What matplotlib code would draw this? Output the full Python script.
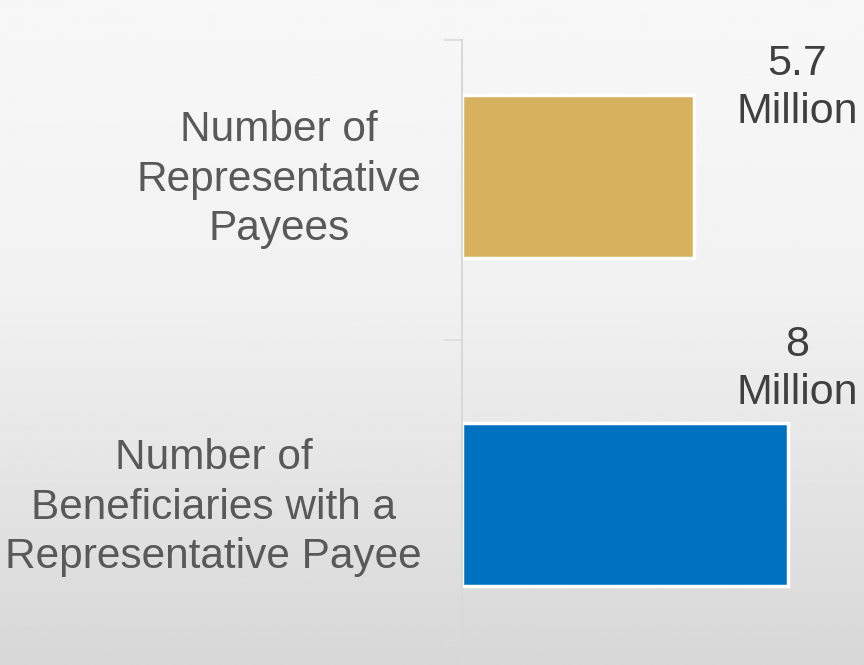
import matplotlib
matplotlib.use('Agg')
import matplotlib.pyplot as plt
import numpy as np

categories = ['Number of\nRepresentative\nPayees',
              'Number of\nBeneficiaries with a\nRepresentative Payee']
values = [5.7, 8.0]
value_labels = ['5.7\nMillion', '8\nMillion']
bar_colors = ['#D7B15E', '#0070C0']

W, H = 864, 665
fig = plt.figure(figsize=(W / 100, H / 100), dpi=100)

# background gradient (light grey to darker grey at bottom)
bg = fig.add_axes([0, 0, 1, 1], zorder=0)
yy = np.linspace(0, 1, 256)
shade = np.interp(yy, [0, 0.45, 1.0], [0.972, 0.945, 0.845])
img = np.repeat(shade[:, None], 2, axis=1)
bg.imshow(img, cmap='gray', vmin=0, vmax=1, aspect='auto', extent=[0, 1, 1, 0])
bg.axis('off')

# main axes: left spine at x=462, categories span y=40..640
left = 462 / W
top = 1 - 40 / H
ax = fig.add_axes([left, 0.0, 1 - left, top], zorder=1)
ax.patch.set_alpha(0)

px_per_unit = 300.0
ax.set_ylim((H - 40) / px_per_unit, 0)
ax.set_xlim(0, (W - 462) / 40.75)

positions = [0.455, 1.548]
ax.barh(positions, values, height=0.543, color=bar_colors,
        edgecolor='white', linewidth=2.5)

label_x = 8.22
label_y = [0.16, 1.097]
for y_txt, txt in zip(label_y, value_labels):
    ax.text(label_x, y_txt, txt, ha='center', va='center', fontsize=31,
            color='#404040', family='Liberation Sans', linespacing=1.27)

# category boundaries as major ticks, labels next to bar centres as minor ticks
ax.set_yticks([0, 1, 2])
ax.set_yticklabels([])
ax.set_yticks([p - 0.02 for p in positions], minor=True)
ax.set_yticklabels(categories, minor=True, fontsize=30.5, color='#595959',
                   family='Liberation Sans', multialignment='center',
                   linespacing=1.3)
ax.tick_params(axis='y', which='major', length=13, color='#DCDCDC', width=1.2)
ax.tick_params(axis='y', which='minor', length=0, pad=29)
ax.set_xticks([])

for s in ['top', 'right', 'bottom']:
    ax.spines[s].set_visible(False)
ax.spines['left'].set_color('#D9D9D9')
ax.spines['left'].set_linewidth(1.5)

fig.savefig('out.png', dpi=100)
